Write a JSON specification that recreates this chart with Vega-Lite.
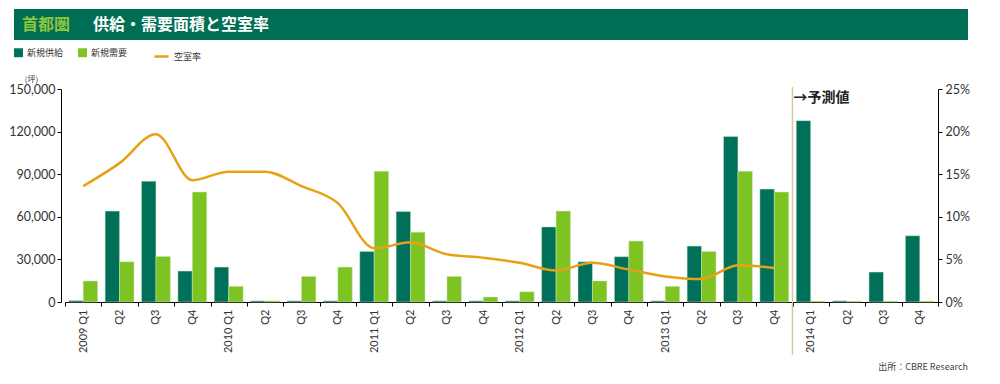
{
  "$schema": "https://vega.github.io/schema/vega-lite/v6.json",
  "width": 873,
  "height": 213,
  "autosize": {"type": "none"},
  "padding": {"left": 65, "top": 89, "right": 62, "bottom": 82},
  "background": "white",
  "config": {
    "view": {"stroke": null},
    "font": "Lato",
    "axis": {"labelFont": "Lato", "titleFont": "Noto Sans CJK JP", "domainColor": "#000", "tickColor": "#000", "labelColor": "#333", "grid": false},
    "legend": {"labelFont": "Noto Sans CJK JP"}
  },
  "datasets": {
    "bars": [
      {"q": "2009 Q1", "series": "新規供給", "value": 1000}, {"q": "2009 Q1", "series": "新規需要", "value": 14800},
      {"q": "2009 Q2", "series": "新規供給", "value": 64000}, {"q": "2009 Q2", "series": "新規需要", "value": 28300},
      {"q": "2009 Q3", "series": "新規供給", "value": 85100}, {"q": "2009 Q3", "series": "新規需要", "value": 32100},
      {"q": "2009 Q4", "series": "新規供給", "value": 21800}, {"q": "2009 Q4", "series": "新規需要", "value": 77400},
      {"q": "2010 Q1", "series": "新規供給", "value": 24600}, {"q": "2010 Q1", "series": "新規需要", "value": 11000},
      {"q": "2010 Q2", "series": "新規供給", "value": 800}, {"q": "2010 Q2", "series": "新規需要", "value": 800},
      {"q": "2010 Q3", "series": "新規供給", "value": 800}, {"q": "2010 Q3", "series": "新規需要", "value": 18000},
      {"q": "2010 Q4", "series": "新規供給", "value": 800}, {"q": "2010 Q4", "series": "新規需要", "value": 24600},
      {"q": "2011 Q1", "series": "新規供給", "value": 35600}, {"q": "2011 Q1", "series": "新規需要", "value": 92100},
      {"q": "2011 Q2", "series": "新規供給", "value": 63700}, {"q": "2011 Q2", "series": "新規需要", "value": 49200},
      {"q": "2011 Q3", "series": "新規供給", "value": 800}, {"q": "2011 Q3", "series": "新規需要", "value": 18000},
      {"q": "2011 Q4", "series": "新規供給", "value": 800}, {"q": "2011 Q4", "series": "新規需要", "value": 3500},
      {"q": "2012 Q1", "series": "新規供給", "value": 800}, {"q": "2012 Q1", "series": "新規需要", "value": 7200},
      {"q": "2012 Q2", "series": "新規供給", "value": 52900}, {"q": "2012 Q2", "series": "新規需要", "value": 64000},
      {"q": "2012 Q3", "series": "新規供給", "value": 28300}, {"q": "2012 Q3", "series": "新規需要", "value": 14800},
      {"q": "2012 Q4", "series": "新規供給", "value": 31900}, {"q": "2012 Q4", "series": "新規需要", "value": 42900},
      {"q": "2013 Q1", "series": "新規供給", "value": 800}, {"q": "2013 Q1", "series": "新規需要", "value": 11000},
      {"q": "2013 Q2", "series": "新規供給", "value": 39400}, {"q": "2013 Q2", "series": "新規需要", "value": 35600},
      {"q": "2013 Q3", "series": "新規供給", "value": 116500}, {"q": "2013 Q3", "series": "新規需要", "value": 92100},
      {"q": "2013 Q4", "series": "新規供給", "value": 79500}, {"q": "2013 Q4", "series": "新規需要", "value": 77400},
      {"q": "2014 Q1", "series": "新規供給", "value": 127700}, {"q": "2014 Q1", "series": "新規需要", "value": 600},
      {"q": "2014 Q2", "series": "新規供給", "value": 800}, {"q": "2014 Q2", "series": "新規需要", "value": 600},
      {"q": "2014 Q3", "series": "新規供給", "value": 21100}, {"q": "2014 Q3", "series": "新規需要", "value": 600},
      {"q": "2014 Q4", "series": "新規供給", "value": 46600}, {"q": "2014 Q4", "series": "新規需要", "value": 600}
    ],
    "rate": [
      {"q": "2009 Q1", "series": "空室率", "rate": 0.136},
      {"q": "2009 Q2", "series": "空室率", "rate": 0.163},
      {"q": "2009 Q3", "series": "空室率", "rate": 0.197},
      {"q": "2009 Q4", "series": "空室率", "rate": 0.143},
      {"q": "2010 Q1", "series": "空室率", "rate": 0.153},
      {"q": "2010 Q2", "series": "空室率", "rate": 0.153},
      {"q": "2010 Q3", "series": "空室率", "rate": 0.136},
      {"q": "2010 Q4", "series": "空室率", "rate": 0.116},
      {"q": "2011 Q1", "series": "空室率", "rate": 0.063},
      {"q": "2011 Q2", "series": "空室率", "rate": 0.070},
      {"q": "2011 Q3", "series": "空室率", "rate": 0.056},
      {"q": "2011 Q4", "series": "空室率", "rate": 0.052},
      {"q": "2012 Q1", "series": "空室率", "rate": 0.046},
      {"q": "2012 Q2", "series": "空室率", "rate": 0.037},
      {"q": "2012 Q3", "series": "空室率", "rate": 0.046},
      {"q": "2012 Q4", "series": "空室率", "rate": 0.038},
      {"q": "2013 Q1", "series": "空室率", "rate": 0.030},
      {"q": "2013 Q2", "series": "空室率", "rate": 0.027},
      {"q": "2013 Q3", "series": "空室率", "rate": 0.043},
      {"q": "2013 Q4", "series": "空室率", "rate": 0.040}
    ]
  },
  "layer": [
    {
      "layer": [
        {
          "data": {"name": "bars"},
          "mark": {"type": "bar", "strokeWidth": 0.8, "strokeOpacity": 0.6, "stroke": "#cfe9c0"},
          "encoding": {
            "x": {
              "field": "q", "type": "nominal", "sort": null,
              "scale": {"paddingInner": 0, "paddingOuter": 0},
              "axis": {"title": null, "labelAngle": -90, "tickBand": "extent", "labelExpr": "isValid(datum.value) ? (slice(datum.value + '', 5) == 'Q1' ? datum.value + '' : slice(datum.value + '', 5)) : ''", "tickSize": 4, "labelFontSize": 11, "labelPadding": 3}
            },
            "xOffset": {"field": "series", "type": "nominal", "sort": null, "scale": {"paddingInner": 0, "paddingOuter": 0.26}},
            "y": {
              "field": "value", "type": "quantitative",
              "scale": {"domain": [0, 150000], "nice": false, "zero": true},
              "axis": {"title": "(坪)", "titleAngle": 0, "titleX": -30, "titleY": -6, "titleFontSize": 8, "titleFontWeight": "normal", "titleColor": "#333", "values": [0, 30000, 60000, 90000, 120000, 150000], "format": ",d", "offset": 4, "tickSize": 4, "labelFontSize": 12.5, "labelPadding": 2}
            },
            "color": {
              "field": "series", "type": "nominal", "sort": null,
              "scale": {"range": ["#00705A", "#7DC423"]},
              "legend": {"orient": "none", "legendX": -51, "legendY": -41, "direction": "horizontal", "title": null, "symbolType": "square", "symbolSize": 80, "symbolStrokeWidth": 0, "labelFontSize": 9, "labelColor": "#333", "columnPadding": 14, "labelOffset": 4}
            }
          }
        },
        {
          "data": {"values": [{}]},
          "mark": {"type": "rule", "color": "#D6C9A3", "strokeWidth": 1.5},
          "encoding": {
            "x": {"datum": "2014 Q1", "bandPosition": 0},
            "y": {"datum": 151400, "scale": {"domain": [0, 150000], "nice": false, "zero": true}},
            "y2": {"datum": -37300}
          }
        },
        {
          "data": {"values": [{}]},
          "mark": {"type": "text", "text": "→予測値", "align": "left", "baseline": "middle", "dx": 1, "fontSize": 14, "fontWeight": "bold", "font": "Noto Sans CJK JP", "color": "#222"},
          "encoding": {
            "x": {"datum": "2014 Q1", "bandPosition": 0},
            "y": {"datum": 143700, "scale": {"domain": [0, 150000], "nice": false, "zero": true}}
          }
        }
      ]
    },
    {
      "data": {"name": "rate"},
      "mark": {"type": "line", "interpolate": "monotone", "strokeWidth": 2.5},
      "encoding": {
        "x": {"field": "q", "type": "nominal", "sort": null},
        "y": {
          "field": "rate", "type": "quantitative",
          "scale": {"domain": [0, 0.25], "nice": false},
          "axis": {"orient": "right", "title": null, "values": [0, 0.05, 0.1, 0.15, 0.2, 0.25], "format": ".0%", "tickSize": 4, "labelFontSize": 12.5, "labelPadding": 3}
        },
        "stroke": {
          "field": "series", "type": "nominal",
          "scale": {"range": ["#E6A117"]},
          "legend": {"orient": "none", "legendX": 88, "legendY": -41, "title": null, "symbolType": "stroke", "symbolSize": 200, "symbolStrokeWidth": 2.5, "labelFontSize": 9, "labelColor": "#333", "labelOffset": 4}
        }
      }
    },
    {
      "data": {"values": [{}]},
      "mark": {"type": "rect", "color": "#006E54"},
      "encoding": {"x": {"value": -51}, "x2": {"value": 903}, "y": {"value": -80}, "y2": {"value": -49}}
    },
    {
      "data": {"values": [{}]},
      "mark": {"type": "text", "text": "首都圏", "align": "left", "baseline": "middle", "fontSize": 16, "fontWeight": "bold", "font": "Noto Sans CJK JP", "color": "#8DC63F"},
      "encoding": {"x": {"value": -43}, "y": {"value": -64}}
    },
    {
      "data": {"values": [{}]},
      "mark": {"type": "text", "text": "供給・需要面積と空室率", "align": "left", "baseline": "middle", "fontSize": 16, "fontWeight": "bold", "font": "Noto Sans CJK JP", "color": "#ffffff"},
      "encoding": {"x": {"value": 28}, "y": {"value": -64}}
    },
    {
      "data": {"values": [{}]},
      "mark": {"type": "text", "text": "出所：CBRE Research", "align": "right", "baseline": "middle", "fontSize": 9, "font": "Noto Sans CJK JP", "color": "#444"},
      "encoding": {"x": {"value": 903}, "y": {"value": 278}}
    }
  ],
  "resolve": {"scale": {"y": "independent"}}
}
